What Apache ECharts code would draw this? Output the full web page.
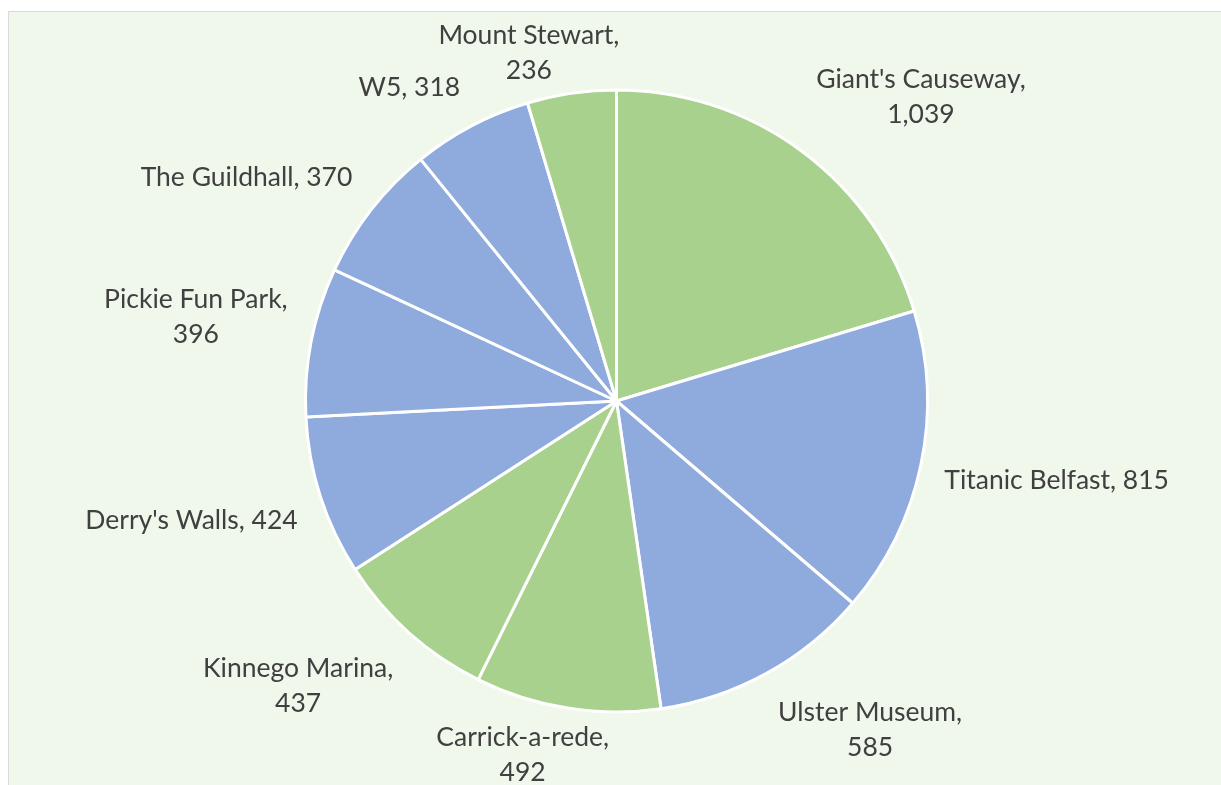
<!DOCTYPE html>
<html><head><meta charset="utf-8">
<script src="https://cdn.jsdelivr.net/npm/echarts@6/dist/echarts.min.js"></script>
<style>html,body{margin:0;padding:0;background:#fff}#c{width:1221px;height:785px}</style>
</head><body><div id="c"></div>
<script>
const names = ["Giant's Causeway","Titanic Belfast","Ulster Museum","Carrick-a-rede","Kinnego Marina","Derry's Walls","Pickie Fun Park","The Guildhall","W5","Mount Stewart"];
const values = [1039,815,585,492,437,424,396,370,318,236];
const green = '#A9D18E', blue = '#8FAADC';
const sliceColors = [green,blue,blue,green,green,blue,blue,blue,blue,green];
const twoLine = [true,false,true,true,true,false,true,false,false,true];

const CX = 616.5, CY = 401, R = 311, LABEL_DIST = 335;
const total = values.reduce((a,b)=>a+b,0);
const cum = []; let acc = 0;
values.forEach(v => { cum.push(acc + v/2); acc += v; });
const clamp = (v, lo, hi) => Math.max(lo, Math.min(hi, v));

const chart = echarts.init(document.getElementById('c'), null, {renderer:'canvas'});
chart.setOption({
  backgroundColor: '#ffffff',
  animation: false,
  graphic: [{
    type: 'rect', z: -10, silent: true,
    shape: {x: 8.5, y: 11.5, width: 1400, height: 900},
    style: {fill: '#F0F7EB', stroke: '#D9D9D9', lineWidth: 1}
  }],
  series: [{
    type: 'pie',
    center: [CX, CY],
    radius: R,
    startAngle: 90,
    clockwise: true,
    avoidLabelOverlap: false,
    itemStyle: {borderColor: '#ffffff', borderWidth: 3},
    label: {
      show: true, position: 'outside',
      color: '#404040', fontFamily: 'Lato', fontSize: 26.5, lineHeight: 35,
      align: 'center',
      formatter: p => p.name + ',' + (twoLine[p.dataIndex] ? '\n' : ' ') + p.value.toLocaleString('en-US')
    },
    labelLine: {show: false},
    labelLayout: function (p) {
      const i = p.dataIndex;
      const th = cum[i] / total * Math.PI * 2;
      const sx = Math.sin(th), cy = Math.cos(th);
      const w = p.labelRect.width, h = p.labelRect.height;
      const ax = CX + sx * LABEL_DIST, ay = CY - cy * LABEL_DIST;
      const fx = clamp(0.5 - 1.5 * sx, 0, 1), fy = clamp(0.5 + 1.5 * cy, 0, 1);
      const left = ax - fx * w;
      const top = clamp(ay - fy * h, 17.5, 790 - h);
      return {x: left + w / 2, y: top + h / 2, align: 'center', verticalAlign: 'middle'};
    },
    data: names.map((n, i) => ({name: n, value: values[i], itemStyle: {color: sliceColors[i]}}))
  }]
});
</script></body></html>
